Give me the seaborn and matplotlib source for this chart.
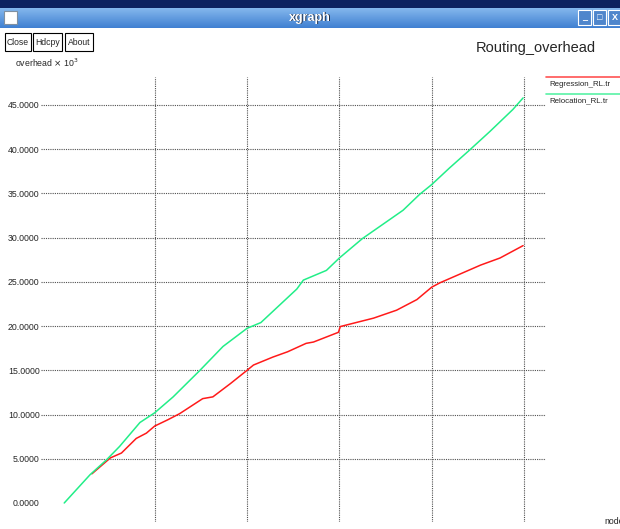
import numpy as np
import pandas as pd
import matplotlib
matplotlib.use("Agg")
import matplotlib.pyplot as plt
from matplotlib.patches import Rectangle
import seaborn as sns

# ---- data -------------------------------------------------------------
series_names = ["Regression_RL.tr", "Relocation_RL.tr"]
series_colors = ["#ff1a1a", "#22ee88"]

regression_x = [3.2, 5.2, 6.4, 8.0, 9.1, 10.0, 11.4, 12.7, 15.2, 16.3, 18.2, 20.0,
                20.7, 22.8, 24.4, 26.4, 27.2, 29.9, 30.1, 33.7, 36.2, 38.4, 40.0,
                40.9, 42.0, 45.3, 47.4, 49.9]
regression_y = [3.3, 5.1, 5.65, 7.3, 7.9, 8.7, 9.4, 10.1, 11.8, 12.0, 13.5, 15.0,
                15.6, 16.5, 17.1, 18.05, 18.2, 19.3, 19.95, 20.9, 21.8, 23.0, 24.4,
                24.9, 25.4, 26.9, 27.7, 29.1]

relocation_x = [0.2, 3.0, 4.8, 6.2, 8.4, 10.0, 12.0, 14.9, 17.4, 20.0, 21.5, 25.4,
                26.1, 28.6, 30.0, 32.5, 36.9, 38.7, 40.0, 41.9, 44.1, 46.3, 48.8, 49.9]
relocation_y = [0.0, 3.2, 4.9, 6.4, 9.1, 10.2, 12.0, 15.0, 17.7, 19.75, 20.4, 24.2,
                25.2, 26.3, 27.7, 29.9, 33.1, 34.9, 36.0, 37.85, 39.9, 42.0, 44.5, 45.8]

y_ticks = [0, 5, 10, 15, 20, 25, 30, 35, 40, 45]
x_grid = [10, 20, 30, 40, 50]

df = pd.concat([
    pd.DataFrame({"nodes": regression_x, "overhead": regression_y, "series": series_names[0]}),
    pd.DataFrame({"nodes": relocation_x, "overhead": relocation_y, "series": series_names[1]}),
], ignore_index=True)

# ---- style ------------------------------------------------------------
sns.set_style("white")
plt.rcParams["font.family"] = ["Liberation Sans", "DejaVu Sans"]

W, H = 620, 529
fig = plt.figure(figsize=(W / 100, H / 100), dpi=100)

# window chrome drawn in pixel coordinates
chrome = fig.add_axes([0, 0, 1, 1], zorder=0)
chrome.set_xlim(0, W)
chrome.set_ylim(H, 0)
chrome.axis("off")

chrome.add_patch(Rectangle((0, 0), W, 8, color="#0d2260", lw=0))
grad = np.linspace(0, 1, 64).reshape(-1, 1)
top_c = np.array([0.52, 0.72, 0.93])
bot_c = np.array([0.25, 0.50, 0.82])
img = top_c + (bot_c - top_c) * grad[..., None]
chrome.imshow(img, extent=(0, W, 28, 8), aspect="auto", zorder=1)
chrome.add_patch(Rectangle((4, 11), 13, 13, facecolor="white", edgecolor="#8090a0", lw=0.8, zorder=2))
chrome.text(W / 2 + 1, 18.5, "xgraph", color="#20304a", fontsize=9, fontweight="bold",
            ha="center", va="center", zorder=2)
chrome.text(W / 2, 17.5, "xgraph", color="white", fontsize=9, fontweight="bold",
            ha="center", va="center", zorder=3)
for bx, glyph in [(578, "_"), (593, "\u25a1"), (608, "X")]:
    chrome.add_patch(Rectangle((bx, 10), 13, 15, facecolor="#4f86cc", edgecolor="white",
                               lw=0.8, zorder=2))
    chrome.text(bx + 6.5, 17.5, glyph, color="white", fontsize=6.5, fontweight="bold",
                ha="center", va="center", zorder=3)

for bx, bw, label in [(5, 26, "Close"), (33, 29, "Hdcpy"), (65, 28, "About")]:
    chrome.add_patch(Rectangle((bx, 33), bw, 18, facecolor="white", edgecolor="black",
                               lw=0.8, zorder=2))
    chrome.text(bx + bw / 2, 42.5, label, fontsize=6.2,
                ha="center", va="center", zorder=3)

chrome.text(536, 48, "Routing_overhead", fontsize=10.5, ha="center", va="center")
chrome.text(15, 63, r"overhead $\times$ 10$^{3}$", fontsize=6.3,
            ha="left", va="center")
chrome.text(604, 522, "nodes", fontsize=6.3, ha="left", va="center")

# legend entries at the top right
for i, (name, col) in enumerate(zip(series_names, series_colors)):
    ly = 77 + 16.5 * i
    chrome.plot([546, 620], [ly, ly], color=col, lw=1.2, alpha=0.75)
    chrome.text(549, ly + 7, name, fontsize=5.7, ha="left", va="center")

# ---- plot area --------------------------------------------------------
left, right, top, bottom = 41, 546, 77, 522
ax = fig.add_axes([left / W, 1 - bottom / H, (right - left) / W, (bottom - top) / H], zorder=1)
ax.patch.set_alpha(0)

px_per_x = (524 - 154.7) / 40.0
x0_px = 154.7 - 10 * px_per_x
px_per_y = (503 - 105) / 45.0
ax.set_xlim((left - x0_px) / px_per_x, (right - x0_px) / px_per_x)
ax.set_ylim((503 - bottom) / px_per_y, (503 - top) / px_per_y)

grid_kw = dict(color="#505050", lw=0.8, linestyle=(0, (1, 1)), zorder=1)
for gx in x_grid:
    ax.axvline(gx, **grid_kw)
for gy in y_ticks[1:]:
    ax.axhline(gy, **grid_kw)

sns.lineplot(data=df, x="nodes", y="overhead", hue="series", palette=series_colors,
             estimator=None, sort=False, legend=False, lw=1.1, ax=ax, zorder=3)

for s in ax.spines.values():
    s.set_visible(False)
ax.set_xticks([])
ax.set_yticks(y_ticks)
ax.set_yticklabels([f"{v:.4f}" for v in y_ticks], fontsize=6.3)
ax.tick_params(axis="y", length=0, pad=1)
ax.set_xlabel("")
ax.set_ylabel("")

fig.savefig("out.png", dpi=100)
